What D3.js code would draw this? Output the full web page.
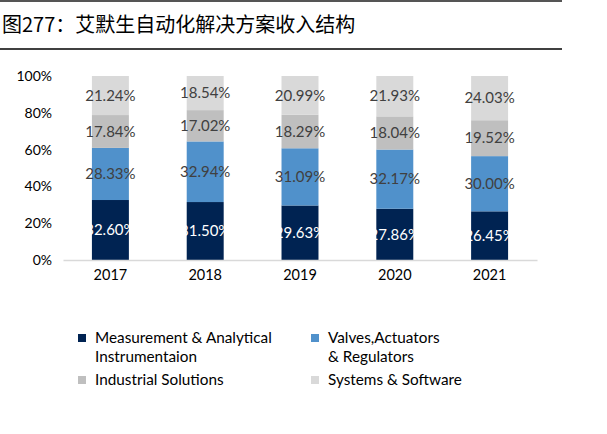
<!DOCTYPE html>
<html><head><meta charset="utf-8">
<script src="https://cdn.jsdelivr.net/npm/d3@7"></script>
<style>body{margin:0;background:#fff;}svg{display:block;}</style>
</head><body>
<script>
const years = ["2017","2018","2019","2020","2021"];
const seriesNames = ["Measurement & Analytical Instrumentaion","Valves,Actuators & Regulators","Industrial Solutions","Systems & Software"];
const measurement = [32.60, 31.50, 29.63, 27.86, 26.45];
const valves = [28.33, 32.94, 31.09, 32.17, 30.00];
const industrial = [17.84, 17.02, 18.29, 18.04, 19.52];
const systems = [21.24, 18.54, 20.99, 21.93, 24.03];
const yTicks = [0, 20, 40, 60, 80, 100];
const colors = ["#002352", "#5091cb", "#bfbfbf", "#d9d9d9"];
const labelColors = ["#ffffff", "#404040", "#404040", "#404040"];

const W = 607, H = 434;
const svg = d3.select("body").append("svg").attr("width", W).attr("height", H);
const font = "Lato, 'Open Sans', sans-serif";

// header lines and title
svg.append("line").attr("x1",0).attr("x2",562).attr("y1",1).attr("y2",1).attr("stroke","#555").attr("stroke-width",2);
svg.append("line").attr("x1",0).attr("x2",562).attr("y1",49).attr("y2",49).attr("stroke","#000").attr("stroke-width",1.5);
svg.append("text").attr("x",2).attr("y",32).attr("font-family","'Noto Sans CJK SC', sans-serif")
  .attr("font-size",20).attr("fill","#000").text("图277：艾默生自动化解决方案收入结构");

const x = d3.scaleBand().domain(years).range([63, 537]).paddingInner(0.61).paddingOuter(0.305);
const y = d3.scaleLinear().domain([0, 100]).range([260, 76]);

const rows = years.map((yr, i) => ({year: yr, s0: measurement[i], s1: valves[i], s2: industrial[i], s3: systems[i]}));
const stack = d3.stack().keys(["s0","s1","s2","s3"]);
const layers = stack(rows);

layers.forEach((layer, li) => {
  const g = svg.append("g");
  g.selectAll("rect").data(layer).enter().append("rect")
    .attr("x", d => x(d.data.year))
    .attr("width", x.bandwidth())
    .attr("y", d => y(Math.min(d[1], 100)))
    .attr("height", d => y(d[0]) - y(Math.min(d[1], 100)))
    .attr("fill", colors[li]);
});
layers.forEach((layer, li) => {
  svg.append("g").selectAll("text").data(layer).enter().append("text")
    .attr("x", d => x(d.data.year) + x.bandwidth()/2)
    .attr("y", d => y((d[0] + d[1]) / 2))
    .attr("dy", "0.35em")
    .attr("text-anchor", "middle")
    .attr("font-family", font).attr("font-size", 15)
    .attr("fill", labelColors[li])
    .text(d => (d[1] - d[0]).toFixed(2) + "%");
});

// y axis
const yAxis = d3.axisLeft(y).tickValues(yTicks).tickFormat(d => d + "%").tickSize(0).tickPadding(0);
const ya = svg.append("g").attr("transform", "translate(52,0)").call(yAxis);
ya.select(".domain").remove();
ya.selectAll("text").attr("font-family", font).attr("font-size", 14).attr("fill", "#000");

// x axis
const xAxis = d3.axisBottom(x).tickSize(0).tickPadding(10);
const xa = svg.append("g").attr("transform", "translate(0,260)").call(xAxis);
xa.select(".domain").attr("stroke", "#d9d9d9").attr("stroke-width", 1.5);
xa.selectAll("text").attr("font-family", font).attr("font-size", 14.5).attr("fill", "#000");

// legend
const legend = [
  {i:0, x:78, y:338, lines:["Measurement & Analytical","Instrumentaion"]},
  {i:1, x:311, y:338, lines:["Valves,Actuators","& Regulators"]},
  {i:2, x:78, y:380, lines:["Industrial Solutions"]},
  {i:3, x:311, y:380, lines:["Systems & Software"]}
];
legend.forEach(l => {
  const g = svg.append("g");
  g.append("rect").attr("x", l.x).attr("y", l.y - 4).attr("width", 8).attr("height", 8).attr("fill", colors[l.i]);
  l.lines.forEach((t, k) => {
    g.append("text").attr("x", l.x + 17).attr("y", l.y + k*19).attr("dy","0.35em")
      .attr("font-family", font).attr("font-size", 15.3).attr("fill", "#000").text(t);
  });
});
</script>
</body></html>
